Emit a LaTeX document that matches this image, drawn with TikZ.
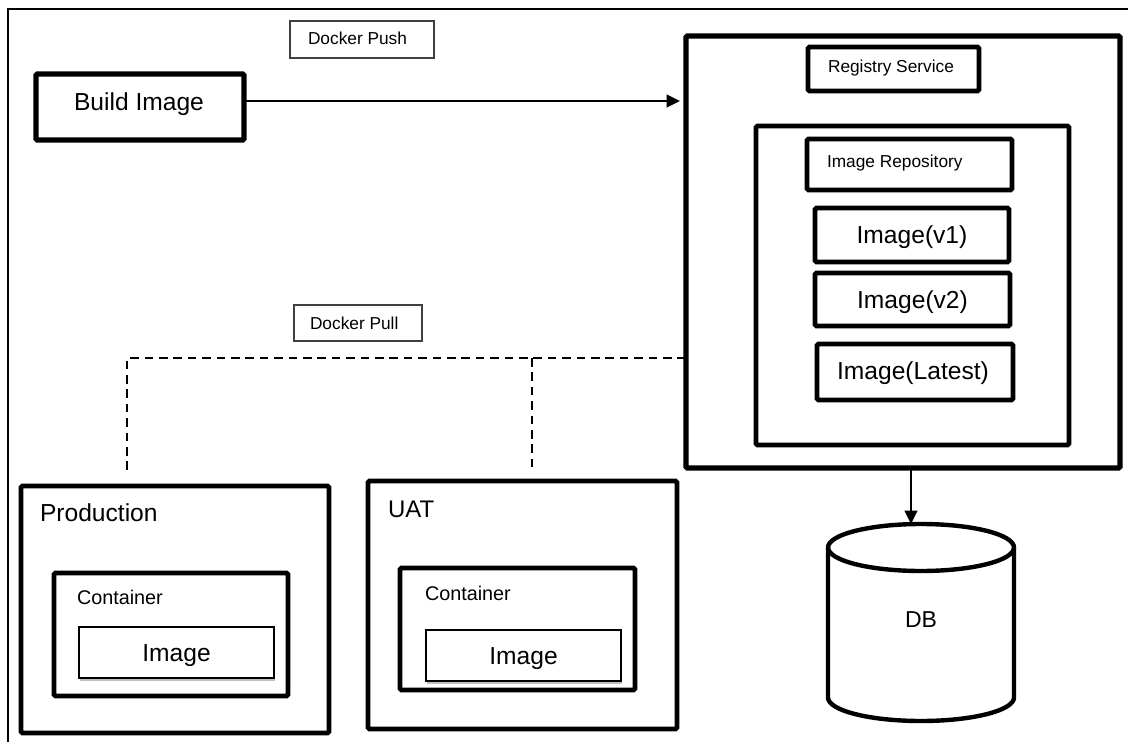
\documentclass[tikz,border=0pt]{standalone}
\usepackage{fontspec}
\setmainfont{Liberation Sans}
\usetikzlibrary{arrows.meta,shadows}
\newcommand{\pxfont}[1]{\pgfmathparse{#1*0.75}\fontsize{\pgfmathresult pt}{\pgfmathresult pt}\selectfont}
\newcommand{\pxbox}[7]{\node[#6,minimum width={(#4-#2)*0.75pt},minimum height={(#5-#3)*0.75pt}] (#1) at ({(#2+#4)/2},{(#3+#5)/2}) {#7};}
\newcommand{\drop}[2]{\raisebox{-#1}[0pt][0pt]{#2}}
\tikzset{
  basebox/.style={draw=black,rounded corners=1pt,inner sep=0pt,outer sep=0pt,fill=white},
  heavy/.style={basebox,line width=3.9pt},
  medium/.style={basebox,line width=3.4pt},
  thinbox/.style={draw=black!75,inner sep=0pt,outer sep=0pt,fill=white,line width=0.8pt},
  imgbox/.style={draw=black,inner sep=0pt,outer sep=0pt,fill=white,line width=1.2pt,
    drop shadow={shadow xshift=0.8pt,shadow yshift=-2pt,opacity=0.25,fill=black}},
  lbl/.style={anchor=base west,inner sep=0pt,outer sep=0pt,text=black},
  conn/.style={line width=1.2pt,draw=black},
  arr/.style={conn,-{Triangle[length=10pt,width=9.5pt]}},
  pull/.style={line width=1.5pt,draw=black,dash pattern=on 6.5pt off 4.3pt},
  frameline/.style={line width=1.1pt,draw=black}
}
\begin{document}
\begin{tikzpicture}[x=0.75pt,y=-0.75pt]
\useasboundingbox (0,0) rectangle (1128,742);
\fill[white] (0,0) rectangle (1128,742);
% frame
\coordinate (fbl) at (8,742);
\coordinate (ftl) at (8,9);
\coordinate (ftr) at (1128,9);
\draw[frameline] (fbl) -- (ftl) -- (ftr);
% top row
\pxbox{build}{36}{74}{244}{140}{heavy}{}
\node[lbl,font=\pxfont{24.6}] (buildt) at (74,111) {Build Image};
\pxbox{pushbox}{290}{21}{434}{58}{thinbox}{}
\node[lbl,font=\pxfont{17.3}] (pusht) at (308,45) {Docker Push};
% registry
\pxbox{registry}{686}{36}{1120}{468}{heavy}{}
\pxbox{regsvc}{808}{47}{979}{91}{medium}{}
\node[lbl,font=\pxfont{17.3}] (regt) at (828,73) {Registry Service};
\pxbox{repo}{756}{126}{1069}{445}{medium}{}
\pxbox{repot}{807}{139}{1012}{190}{medium}{}
\node[lbl,font=\pxfont{17.3}] (repol) at (827,167) {Image Repository};
\pxbox{v1}{815}{208}{1009}{262}{medium}{\pxfont{24.6}\drop{6pt}{Image(v1)}}
\pxbox{v2}{815}{273}{1010}{326}{medium}{\pxfont{24.6}\drop{6.4pt}{Image(v2)}}
\pxbox{latest}{817}{344}{1013}{400}{medium}{\pxfont{24.6}\hspace*{-3pt}\drop{5.3pt}{Image(Latest)}}
% docker pull
\pxbox{pullbox}{294}{305}{422}{341}{thinbox}{}
\node[lbl,font=\pxfont{17.3}] (pullt) at (310,329) {Docker Pull};
\coordinate (pullline) at (400,358);
\coordinate (prodend) at (127,472);
\coordinate (uatend) at (532,472);
\draw[pull] (registry.west |- pullline) -- (prodend |- pullline) -- (prodend);
\draw[pull] (uatend |- pullline) -- (uatend);
% production
\pxbox{prod}{21}{486}{329}{733}{medium}{}
\node[lbl,font=\pxfont{24.6}] (prodt) at (40,521) {Production};
\pxbox{prodc}{54}{573}{288}{696}{medium}{}
\node[lbl,font=\pxfont{19.8}] (prodct) at (77,604) {Container};
\pxbox{prodi}{79}{627}{274}{678}{imgbox}{\pxfont{24.6}\drop{6.4pt}{Image}}
% UAT
\pxbox{uat}{368}{481}{677}{729}{medium}{}
\node[lbl,font=\pxfont{24}] (uatt) at (388,517) {UAT};
\pxbox{uatc}{400}{568}{635}{690}{medium}{}
\node[lbl,font=\pxfont{19.8}] (uatct) at (425,600) {Container};
\pxbox{uati}{426}{630}{621}{681}{imgbox}{\pxfont{24.6}\drop{6.4pt}{Image}}
% DB
\pxbox{db}{828}{524}{1014}{721}{inner sep=0pt,outer sep=0pt}{\pxfont{23}\drop{3.4pt}{DB}}
\draw[line width=3.3pt,draw=black] (db.north west) ++(0,23.5)
  arc[start angle=180,end angle=0,x radius=93,y radius=-23.5]
  -- ++(0,150)
  arc[start angle=0,end angle=-180,x radius=93,y radius=-23.5]
  -- cycle;
\draw[line width=3.3pt,draw=black] (db.north west) ++(0,23.5)
  arc[start angle=180,end angle=360,x radius=93,y radius=-23.5];
% connectors
\coordinate (pushline) at (400,101);
\coordinate (dbline) at (911,500);
\draw[arr,shorten >=4.5pt] (build.east |- pushline) -- (registry.west |- pushline);
\draw[arr] (registry.south -| dbline) -- (db.north -| dbline);
\end{tikzpicture}
\end{document}
